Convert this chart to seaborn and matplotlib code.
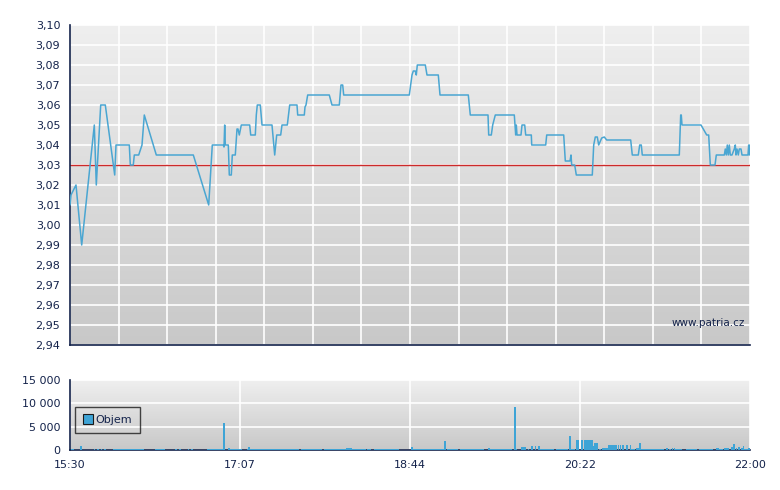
import numpy as np
import pandas as pd
import matplotlib
matplotlib.use("Agg")
import matplotlib.pyplot as plt
from matplotlib.colors import LinearSegmentedColormap
from matplotlib.lines import Line2D
import seaborn as sns

# ---- data: minutes after 15:30 ----
price_minutes = [0, 0.57, 3.44, 6.71, 13.94, 15.08, 17.61, 20.25, 25.64, 26.38,
                 34.01, 34.58, 36.30, 36.88, 39.40, 41.29, 42.61, 49.50, 70.72, 79.55,
                 81.61, 87.92, 88.32, 88.72, 89.07, 90.79, 91.36, 92.51, 93.08, 94.80,
                 95.78, 96.35, 97.10, 98.24, 103.06, 103.64, 106.27, 106.85, 107.42, 109.14,
                 110.12, 115.85, 117.40, 118.55, 120.84, 121.59, 124.63, 126.00, 130.19, 130.59,
                 134.38, 134.78, 135.35, 136.32, 148.71, 150.26, 154.45, 155.42, 156.40, 156.97,
                 194.60, 196.15, 196.89, 198.04, 198.61, 199.19, 203.78, 204.75, 211.23, 212.21,
                 228.44, 229.58, 239.74, 240.14, 241.63, 242.43, 243.92, 254.82, 255.62, 255.97,
                 256.37, 258.66, 259.24, 260.79, 261.36, 264.58, 264.80, 272.83, 273.41, 283.16,
                 284.07, 286.76, 287.34, 287.74, 289.46, 290.38, 299.55, 300.36, 301.27, 302.42,
                 303.22, 304.94, 306.43, 307.81, 321.57, 322.49, 325.93, 326.74, 327.65, 328.22,
                 349.45, 350.25, 350.59, 351.00, 361.90, 365.17, 366.31, 367.23, 369.93, 370.67,
                 375.26, 375.83, 376.41, 376.98, 377.55, 378.13, 378.70, 379.67, 380.99, 381.57,
                 381.97, 382.54, 383.29, 383.86, 384.84, 385.41, 388.85, 389.25, 389.60, 390.00]
price_values = [3.010, 3.015, 3.020, 2.990, 3.050, 3.020, 3.060, 3.060, 3.025, 3.040,
                3.040, 3.030, 3.030, 3.035, 3.035, 3.040, 3.055, 3.035, 3.035, 3.010,
                3.040, 3.040, 3.039, 3.050, 3.040, 3.040, 3.025, 3.025, 3.035, 3.035,
                3.048, 3.048, 3.045, 3.050, 3.050, 3.045, 3.045, 3.055, 3.060, 3.060,
                3.050, 3.050, 3.035, 3.045, 3.045, 3.050, 3.050, 3.060, 3.060, 3.055,
                3.055, 3.059, 3.060, 3.065, 3.065, 3.060, 3.060, 3.070, 3.070, 3.065,
                3.065, 3.075, 3.077, 3.077, 3.075, 3.080, 3.080, 3.075, 3.075, 3.065,
                3.065, 3.055, 3.055, 3.045, 3.045, 3.050, 3.055, 3.055, 3.045, 3.050,
                3.045, 3.045, 3.050, 3.050, 3.045, 3.045, 3.040, 3.040, 3.045, 3.045,
                3.032, 3.032, 3.035, 3.030, 3.030, 3.025, 3.025, 3.040, 3.044, 3.044,
                3.040, 3.0435, 3.044, 3.0425, 3.0425, 3.035, 3.035, 3.040, 3.040, 3.035,
                3.035, 3.055, 3.055, 3.050, 3.050, 3.045, 3.045, 3.030, 3.030, 3.035,
                3.035, 3.038, 3.035, 3.040, 3.035, 3.040, 3.035, 3.035, 3.038, 3.040,
                3.035, 3.038, 3.035, 3.038, 3.038, 3.035, 3.035, 3.040, 3.035, 3.040]
reference_price = 3.03

volume_minutes = [1, 2, 6.5, 14, 16, 18, 20,
                  25, 26, 27, 28, 29, 30, 31, 32, 33, 34, 35, 36, 37, 38, 39, 40, 41, 42,
                  49, 50, 51, 52, 53, 54, 61, 63, 68, 70,
                  79, 80, 81, 82, 83, 84, 85, 86, 87, 88, 88.5, 91, 92, 93, 94, 95, 96, 97, 98,
                  102, 102.7, 104, 105, 106, 107, 108, 109, 110, 111, 112, 113, 114, 115, 116,
                  117, 118, 119, 120, 121, 122, 123, 124, 125, 126, 127, 128, 129, 130,
                  131, 133, 134, 135, 136, 137, 138, 139, 140, 141, 142, 143, 144, 146, 147,
                  148, 149, 150, 151, 152, 153, 154, 155, 156, 157, 158, 159, 160, 161,
                  162, 163, 164, 165, 166, 167, 168, 169, 171, 172,
                  175, 176, 177, 178, 179, 180, 181, 182, 183, 184, 185, 186, 187, 188,
                  196.3, 197, 198, 199, 200, 201, 202, 203, 204, 205, 206, 207, 208, 209, 210,
                  211, 212, 213, 214, 215.2, 217, 218, 219, 220, 221, 222,
                  224, 225, 226, 227, 228, 229, 230, 231, 232, 233, 234, 235, 236, 237,
                  240.3, 241, 242, 243, 244, 245, 246, 247, 248, 249, 250, 251, 252, 253,
                  255.4, 256, 259, 260, 261, 263, 265, 267, 269,
                  270, 271, 272, 273, 274, 275, 276, 277, 279, 280, 281, 282, 283, 284, 285,
                  286.8, 288, 289, 290.5, 291.5, 293.8, 295.2, 296.5, 297.5, 298.5, 299.5,
                  300.1, 301.3, 302.4, 304, 305.5, 306.8, 307.8, 309, 310, 311, 312, 313,
                  314.6, 315.8, 317, 319.5, 321.5, 322.5, 323.5, 325, 326, 327,
                  328, 329, 330, 331, 332, 333, 334, 335, 336, 337, 338, 339, 340,
                  342.5, 344, 345.5, 346.7, 347.5, 348.5, 349.5, 350.5,
                  354, 355, 356, 357, 358, 359, 361.5, 362.5, 363.5, 364.5, 365.5, 366.5,
                  367.5, 368.5, 370.8, 371.8, 373, 374, 375.5, 376.5, 377.5, 379.5, 381,
                  382.3, 383.9, 385.3, 386.3, 387.3, 388.4, 389.3]
volume_values = [250, 250, 800, 250, 250, 250, 250,
                 250, 250, 250, 250, 250, 250, 250, 250, 250, 250, 250, 250, 250, 250, 250, 250, 250, 250,
                 300, 300, 300, 300, 300, 300, 250, 250, 250, 250,
                 250, 250, 250, 250, 250, 250, 250, 250, 250, 250, 5800, 500, 250, 250, 250, 250, 250, 250, 250,
                 250, 600, 250, 250, 250, 250, 250, 250, 250, 250, 250, 250, 250, 250, 250,
                 250, 250, 250, 250, 250, 250, 250, 250, 250, 250, 250, 250, 250, 250,
                 250, 250, 250, 250, 250, 250, 250, 250, 250, 250, 250, 250, 250, 250, 250,
                 250, 250, 250, 250, 250, 250, 250, 250, 250, 250, 250, 350, 350, 350,
                 250, 250, 250, 250, 250, 250, 250, 250, 250, 250,
                 250, 250, 250, 250, 250, 250, 250, 250, 250, 250, 250, 250, 250, 250,
                 560, 250, 250, 250, 250, 250, 250, 250, 250, 250, 250, 250, 250, 250, 250,
                 250, 250, 250, 250, 1900, 250, 250, 250, 250, 250, 250,
                 250, 250, 250, 250, 250, 250, 250, 250, 250, 250, 250, 250, 250, 250,
                 350, 250, 250, 250, 250, 250, 250, 250, 250, 250, 250, 250, 250, 250,
                 9150, 300, 570, 570, 570, 250, 790, 790, 790,
                 250, 250, 250, 250, 250, 250, 250, 250, 250, 250, 250, 250, 250, 250, 250,
                 2930, 250, 250, 2070, 2070, 2070, 2070, 2070, 2070, 2070, 2070,
                 860, 1430, 1430, 250, 430, 430, 430, 1000, 1000, 1000, 1000, 1000,
                 1000, 1000, 1000, 1000, 1000, 300, 300, 430, 430, 1430,
                 200, 200, 200, 200, 200, 200, 200, 200, 200, 200, 200, 250, 250,
                 360, 250, 430, 360, 250, 250, 250, 250,
                 200, 200, 200, 200, 200, 200, 200, 200, 200, 200, 200, 200,
                 200, 200, 430, 430, 250, 290, 360, 360, 360, 570, 1210,
                 430, 710, 360, 790, 290, 290, 360]

time_labels = ["15:30", "17:07", "18:44", "20:22", "22:00"]
price_ticks = [2.94, 2.95, 2.96, 2.97, 2.98, 2.99, 3.00, 3.01, 3.02, 3.03,
               3.04, 3.05, 3.06, 3.07, 3.08, 3.09, 3.10]
volume_ticks = [0, 5000, 10000, 15000]
volume_tick_labels = ["0", "5 000", "10 000", "15 000"]

# ---- styling ----
sns.set_style("white")
plt.rcParams["font.family"] = ["DejaVu Sans"]
navy = "#14234b"
line_blue = "#4aa6d2"
bar_blue = "#3ea4d6"
ref_red = "#cc2a2a"
grad = LinearSegmentedColormap.from_list("g", ["#c8c8c8", "#efefef"])

fig = plt.figure(figsize=(7.8, 4.9), dpi=100)
ax = fig.add_axes([70 / 780, 1 - 345 / 490, 680 / 780, 320 / 490])
axv = fig.add_axes([70 / 780, 1 - 450 / 490, 680 / 780, 70 / 490])

T = 390.0

def decorate(a):
    a.imshow(np.linspace(0, 1, 256).reshape(-1, 1), cmap=grad, origin="lower",
             extent=[0, 1, 0, 1], transform=a.transAxes, aspect="auto", zorder=0)
    for s in ["top", "right"]:
        a.spines[s].set_visible(False)
    for s in ["left", "bottom"]:
        a.spines[s].set_color(navy)
        a.spines[s].set_linewidth(1.2)
    a.tick_params(axis="both", direction="out", length=5, width=1, color=navy,
                  labelcolor=navy, labelsize=8, pad=2)
    a.set_axisbelow(True)
    a.grid(True, color="white", linewidth=1.2)

# ---- price chart ----
df = pd.DataFrame({"minute": price_minutes, "price": price_values})
decorate(ax)
sns.lineplot(data=df, x="minute", y="price", ax=ax, color=line_blue, linewidth=1.1,
             estimator=None, sort=False, zorder=3)
ax.axhline(reference_price, color=ref_red, linewidth=1, zorder=2)
ax.set_xlim(0, T)
ax.set_ylim(2.94, 3.10)
ax.set_xticks(np.linspace(0, T, 15))
ax.set_xticklabels([])
ax.set_yticks(price_ticks)
ax.set_yticklabels([f"{v:.2f}".replace(".", ",") for v in price_ticks])
ax.set_xlabel("")
ax.set_ylabel("")
ax.text(0.993, 0.069, "www.patria.cz", transform=ax.transAxes, ha="right", va="center",
        fontsize=7.5, color=navy, zorder=4)

# ---- volume chart ----
decorate(axv)
axv.bar(volume_minutes, volume_values, width=1.0, color=bar_blue, linewidth=0, zorder=3)
axv.set_xlim(0, T)
axv.set_ylim(0, 15000)
axv.set_xticks(np.linspace(0, T, 5))
axv.set_xticklabels(time_labels)
axv.set_yticks(volume_ticks)
axv.set_yticklabels(volume_tick_labels)
handle = Line2D([], [], marker="s", linestyle="none", markersize=7,
                markerfacecolor=bar_blue, markeredgecolor="#1a1a1a", markeredgewidth=0.8)
leg = axv.legend([handle], ["Objem"], loc="lower left", bbox_to_anchor=(0.008, 0.24),
                 frameon=True, fancybox=False, fontsize=8, handlelength=0.8,
                 handletextpad=0.25, borderpad=0.75, borderaxespad=0)
leg.get_frame().set_edgecolor("#1a1a1a")
leg.get_frame().set_facecolor("none")
leg.get_frame().set_linewidth(1)
for t in leg.get_texts():
    t.set_color(navy)

fig.savefig("out.png", dpi=100)
